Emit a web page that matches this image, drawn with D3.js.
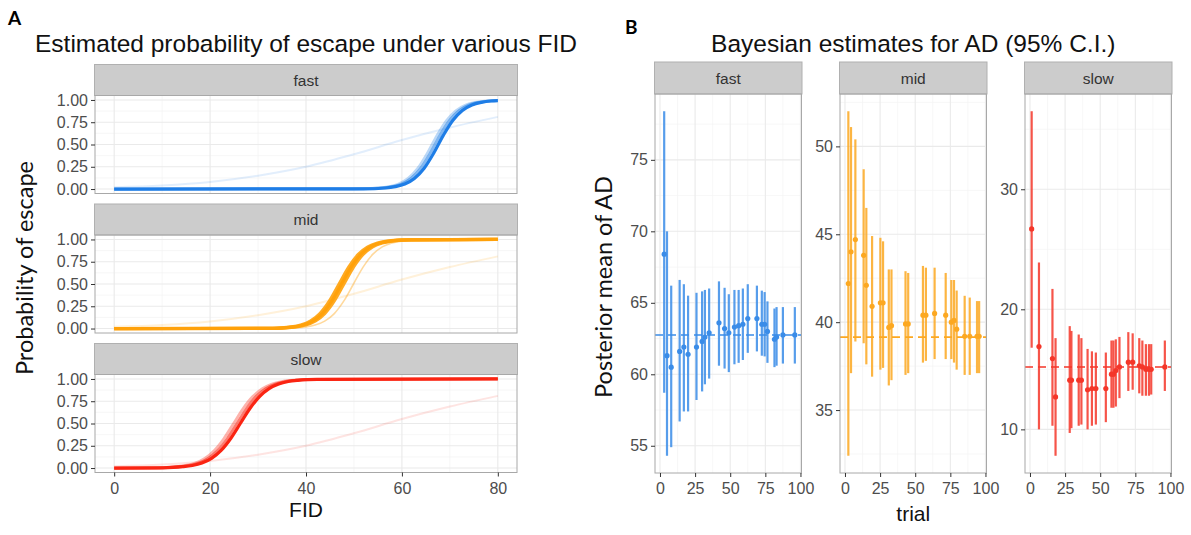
<!DOCTYPE html>
<html>
<head>
<meta charset="utf-8">
<script src="https://cdn.jsdelivr.net/npm/d3@7"></script>
<style>
  body { margin: 0; background: #fff; }
  svg { display: block; }
</style>
</head>
<body>
<svg id="chart" width="1191" height="535"></svg>
<script>
(function drawFigure() {
  const FACETS = ['fast', 'mid', 'slow'];

  // ---- Panel A data: curves as [FID, probability] ----
  const fidTicks = [0, 20, 40, 60, 80];
  const probTicks = [0, 0.25, 0.5, 0.75, 1];

  const faintCurve = [[0, 0.02], [10, 0.04], [20, 0.08], [30, 0.15], [40, 0.25], [50, 0.39], [60, 0.55], [70, 0.69], [80, 0.81]];

  const fastCurves = [
    faintCurve,
    [[0, 0], [50, 0.002], [55.3, 0.012], [57.3, 0.027], [59.3, 0.057], [61.3, 0.119], [63.3, 0.231], [65.3, 0.401], [67.3, 0.599], [69.3, 0.769], [71.3, 0.881], [73.3, 0.943], [75.3, 0.973], [77.3, 0.988], [80, 0.996]],
    [[0, 0], [50, 0.002], [55.9, 0.012], [57.9, 0.027], [59.9, 0.057], [61.9, 0.119], [63.9, 0.231], [65.9, 0.401], [67.9, 0.599], [69.9, 0.769], [71.9, 0.881], [73.9, 0.943], [75.9, 0.973], [77.9, 0.988], [80, 0.994]],
    [[0, 0], [52, 0.002], [56.6, 0.012], [58.6, 0.027], [60.6, 0.057], [62.6, 0.119], [64.6, 0.231], [66.6, 0.401], [68.6, 0.599], [70.6, 0.769], [72.6, 0.881], [74.6, 0.943], [76.6, 0.973], [78.6, 0.988], [80, 0.992]]
  ];

  const midCurves = [
    faintCurve,
    [[0, 0], [36, 0.003], [37.9, 0.008], [39.9, 0.018], [41.9, 0.039], [43.9, 0.083], [45.9, 0.168], [47.9, 0.31], [49.9, 0.5], [51.9, 0.69], [53.9, 0.832], [55.9, 0.917], [57.9, 0.961], [59.9, 0.982], [61.9, 0.992], [63.9, 0.996], [80, 1]],
    [[0, 0], [31, 0.002], [34.9, 0.008], [36.9, 0.018], [38.9, 0.039], [40.9, 0.083], [42.9, 0.168], [44.9, 0.31], [46.9, 0.5], [48.9, 0.69], [50.9, 0.832], [52.9, 0.917], [54.9, 0.961], [56.9, 0.982], [58.9, 0.992], [60.9, 0.996], [80, 1]],
    [[0, 0], [32, 0.002], [35.9, 0.008], [37.9, 0.018], [39.9, 0.039], [41.9, 0.083], [43.9, 0.168], [45.9, 0.31], [47.9, 0.5], [49.9, 0.69], [51.9, 0.832], [53.9, 0.917], [55.9, 0.961], [57.9, 0.982], [59.9, 0.992], [61.9, 0.996], [80, 1]],
    [[0, 0], [31.5, 0.002], [35.4, 0.008], [37.4, 0.018], [39.4, 0.039], [41.4, 0.083], [43.4, 0.168], [45.4, 0.31], [47.4, 0.5], [49.4, 0.69], [51.4, 0.832], [53.4, 0.917], [55.4, 0.961], [57.4, 0.982], [59.4, 0.992], [61.4, 0.996], [80, 1]]
  ];

  const slowCurves = [
    faintCurve,
    [[0, 0], [8.9, 0.003], [10.9, 0.007], [12.9, 0.015], [14.9, 0.029], [16.9, 0.057], [18.9, 0.109], [20.9, 0.198], [22.9, 0.332], [24.9, 0.5], [26.9, 0.668], [28.9, 0.802], [30.9, 0.891], [32.9, 0.943], [34.9, 0.971], [36.9, 0.985], [38.9, 0.993], [40.9, 0.996], [80, 1]],
    [[0, 0], [9.6, 0.003], [11.6, 0.007], [13.6, 0.015], [15.6, 0.029], [17.6, 0.057], [19.6, 0.109], [21.6, 0.198], [23.6, 0.332], [25.6, 0.5], [27.6, 0.668], [29.6, 0.802], [31.6, 0.891], [33.6, 0.943], [35.6, 0.971], [37.6, 0.985], [39.6, 0.993], [41.6, 0.996], [80, 1]],
    [[0, 0], [10.3, 0.003], [12.3, 0.007], [14.3, 0.015], [16.3, 0.029], [18.3, 0.057], [20.3, 0.109], [22.3, 0.198], [24.3, 0.332], [26.3, 0.5], [28.3, 0.668], [30.3, 0.802], [32.3, 0.891], [34.3, 0.943], [36.3, 0.971], [38.3, 0.985], [40.3, 0.993], [42.3, 0.996], [80, 1]]
  ];

  // ---- Panel B data: [trial, posterior mean, lower 95%, upper 95%] ----
  const trialTicks = [0, 25, 50, 75, 100];

  const fastEstimates = [
    [3, 68.4, 58.7, 78.4], [5, 61.3, 54.3, 70.0], [8, 60.5, 54.9, 66.2], [14, 61.6, 56.7, 66.6],
    [17, 61.9, 57.4, 66.3], [20, 61.4, 57.4, 65.5], [26, 61.9, 58.2, 65.7], [30, 62.3, 58.8, 65.8],
    [32, 62.6, 59.3, 65.9], [35, 62.9, 59.7, 66.0], [42, 63.6, 60.6, 66.5], [46, 63.2, 60.4, 66.05],
    [49, 62.9, 60.15, 65.6], [53, 63.3, 60.7, 65.9], [56, 63.4, 60.8, 65.9], [59, 63.5, 61.0, 66.0],
    [62.5, 63.9, 61.5, 66.3], [69, 63.9, 61.6, 66.2], [72.5, 63.5, 61.3, 65.85], [74.5, 63.5, 61.25, 65.75],
    [76.5, 63.0, 60.8, 65.1], [81.5, 62.45, 60.5, 64.6], [83, 62.6, 60.6, 64.7], [87.5, 62.75, 60.75, 64.7],
    [96, 62.75, 60.75, 64.7]
  ];

  const midEstimates = [
    [2.4, 42.2, 32.4, 52.0], [4.3, 44.0, 37.1, 51.1], [7.4, 44.7, 38.9, 50.4], [13.3, 43.8, 38.8, 48.7],
    [15.2, 42.1, 37.6, 46.5], [19.3, 40.9, 36.9, 44.9], [25.2, 41.1, 37.3, 44.8], [27.1, 41.1, 37.4, 44.6],
    [31.2, 39.7, 36.4, 43.0], [33.1, 39.8, 36.7, 43.0], [43.1, 39.9, 37.0, 42.9], [45.0, 39.9, 37.1, 42.8],
    [55.5, 40.4, 37.7, 43.2], [57.6, 40.4, 37.8, 43.1], [63.8, 40.5, 37.9, 43.1], [71.7, 40.4, 37.9, 42.8],
    [75.7, 40.0, 37.9, 42.4], [77.6, 40.1, 37.7, 42.4], [79.5, 39.6, 37.3, 41.8], [85.2, 39.2, 37.0, 41.5],
    [88.8, 39.2, 37.0, 41.4], [94.0, 39.2, 37.1, 41.2], [95.5, 39.2, 37.1, 41.2]
  ];

  const slowEstimates = [
    [1.2, 26.7, 16.8, 36.5], [6.4, 16.9, 10.0, 23.9], [16.0, 15.9, 10.3, 21.7], [18.2, 12.7, 7.8, 17.6],
    [28.3, 14.1, 9.7, 18.6], [29.5, 14.1, 10.1, 18.2], [34.7, 14.1, 10.3, 17.9], [36.6, 14.1, 10.4, 17.6],
    [41.0, 13.3, 10.0, 16.7], [44.1, 13.4, 10.3, 16.5], [46.9, 13.4, 10.4, 16.4], [54.0, 13.4, 10.6, 16.4],
    [58.0, 14.6, 11.8, 17.4], [59.4, 14.6, 11.8, 17.4], [61.1, 14.9, 11.9, 17.5], [63.7, 15.2, 12.6, 17.7],
    [70.0, 15.6, 13.2, 18.1], [73.1, 15.6, 13.3, 18.0], [77.8, 15.3, 13.0, 17.6], [80.0, 15.2, 12.8, 17.4],
    [82.5, 15.0, 12.8, 17.1], [84.7, 15.0, 12.8, 17.1], [86.3, 15.0, 12.9, 17.1], [96.0, 15.2, 13.2, 17.4]
  ];

  const referenceAD = [62.75, 39.15, 15.2];
  const adTicks = [[55, 60, 65, 70, 75], [35, 40, 45, 50], [10, 20, 30]];

  // ---- styling ----
  const COLORS_A = ['#1E7DE6', '#FFA10A', '#FA2412'];
  const COLORS_B = ['#3A8CE8', '#FCA821', '#F43629'];
  const curveAlpha = [[0.13, 0.3, 0.55, 1], [0.15, 0.4, 0.9, 0.9, 1], [0.12, 0.35, 0.6, 1]];
  const curveWidth = [[2, 2.8, 2.8, 3.2], [2, 1.6, 3.2, 3.2, 3.2], [2, 2.8, 2.8, 3.2]];
  const SANS = "'Liberation Sans', Arial, sans-serif";
  const LABEL_FONT = "Lato, 'Open Sans', sans-serif";

  const svg = d3.select('#chart');

  function expand(ext, f = 0.05) {
    const p = (ext[1] - ext[0]) * f;
    return [ext[0] - p, ext[1] + p];
  }

  function minors(majors, domain) {
    const step = majors[1] - majors[0];
    const out = [];
    for (let v = majors[0] - step / 2; v <= domain[1]; v += step) {
      if (v >= domain[0]) out.push(v);
    }
    return out;
  }

  // background, grid and strip for one facet
  function facetFrame(x, y, label, xMajor, yMajor, stripH) {
    const [x0, x1] = x.range();
    const [y1, y0] = y.range();
    const g = svg.append('g');
    g.append('rect').attr('x', x0).attr('y', y0).attr('width', x1 - x0).attr('height', y1 - y0).attr('fill', '#fff');

    minors(xMajor, x.domain()).forEach(v => {
      g.append('line').attr('x1', x(v)).attr('x2', x(v)).attr('y1', y0).attr('y2', y1)
        .attr('stroke', '#F4F4F4').attr('stroke-width', 0.7);
    });
    minors(yMajor, y.domain()).forEach(v => {
      g.append('line').attr('x1', x0).attr('x2', x1).attr('y1', y(v)).attr('y2', y(v))
        .attr('stroke', '#F4F4F4').attr('stroke-width', 0.7);
    });
    xMajor.forEach(v => {
      g.append('line').attr('x1', x(v)).attr('x2', x(v)).attr('y1', y0).attr('y2', y1)
        .attr('stroke', '#EAEAEA').attr('stroke-width', 1.1);
    });
    yMajor.forEach(v => {
      g.append('line').attr('x1', x0).attr('x2', x1).attr('y1', y(v)).attr('y2', y(v))
        .attr('stroke', '#EAEAEA').attr('stroke-width', 1.1);
    });

    g.append('rect').attr('x', x0 - 0.5).attr('y', y0 - stripH).attr('width', x1 - x0 + 1).attr('height', stripH)
      .attr('fill', '#CCCCCC').attr('stroke', '#B0B0B0').attr('stroke-width', 1);
    g.append('text').attr('x', (x0 + x1) / 2).attr('y', y0 - stripH / 2 + 5.5)
      .attr('text-anchor', 'middle').attr('font-family', SANS).attr('font-size', '15.5px')
      .attr('fill', '#333').text(label);
    return g;
  }

  function facetBorder(x, y) {
    const [x0, x1] = x.range();
    const [y1, y0] = y.range();
    svg.append('rect').attr('x', x0).attr('y', y0).attr('width', x1 - x0).attr('height', y1 - y0)
      .attr('fill', 'none').attr('stroke', '#A8A8A8').attr('stroke-width', 1);
  }

  function styleAxis(g) {
    g.select('.domain').remove();
    g.selectAll('line').attr('stroke', '#333').attr('stroke-width', 1);
    g.selectAll('text').attr('fill', '#4D4D4D').attr('font-family', SANS).attr('font-size', '16px');
  }

  // ================= Panel A =================
  const A_LEFT = 95, A_RIGHT = 517, A_TOP = 95.5, A_STEP = 139.5, A_H = 98, A_STRIP = 31;
  const xA = d3.scaleLinear().domain(expand(d3.extent(fidTicks))).range([A_LEFT, A_RIGHT]);
  const curveSets = [fastCurves, midCurves, slowCurves];

  FACETS.forEach((facet, i) => {
    const top = A_TOP + i * A_STEP;
    const yA = d3.scaleLinear().domain(expand([0, 1])).range([top + A_H, top]);
    facetFrame(xA, yA, facet, fidTicks, probTicks, A_STRIP);

    const line = d3.line().x(d => xA(d[0])).y(d => yA(d[1])).curve(d3.curveMonotoneX);
    curveSets[i].forEach((pts, j) => {
      svg.append('path').datum(pts).attr('d', line)
        .attr('fill', 'none').attr('stroke', COLORS_A[i])
        .attr('stroke-opacity', curveAlpha[i][j]).attr('stroke-width', curveWidth[i][j]);
    });
    facetBorder(xA, yA);

    svg.append('g').attr('transform', `translate(${A_LEFT},0)`)
      .call(d3.axisLeft(yA).tickValues(probTicks).tickFormat(d3.format('.2f')).tickSize(4).tickPadding(3))
      .call(styleAxis);

    if (i === FACETS.length - 1) {
      svg.append('g').attr('transform', `translate(0,${top + A_H})`)
        .call(d3.axisBottom(xA).tickValues(fidTicks).tickSize(4).tickPadding(6))
        .call(styleAxis);
    }
  });

  svg.append('text').attr('x', 8).attr('y', 25).attr('font-family', LABEL_FONT)
    .attr('font-weight', 'bold').attr('font-size', '19px').attr('fill', '#000').text('A');
  svg.append('text').attr('x', (A_LEFT + A_RIGHT) / 2).attr('y', 52).attr('text-anchor', 'middle')
    .attr('font-family', SANS).attr('font-size', '24.5px').attr('fill', '#111')
    .text('Estimated probability of escape under various FID');
  svg.append('text').attr('x', (A_LEFT + A_RIGHT) / 2).attr('y', 517).attr('text-anchor', 'middle')
    .attr('font-family', SANS).attr('font-size', '21px').attr('fill', '#111').text('FID');
  svg.append('text').attr('transform', 'translate(33,268) rotate(-90)').attr('text-anchor', 'middle')
    .attr('font-family', LABEL_FONT).attr('font-size', '23.5px').attr('fill', '#111')
    .text('Probability of escape');

  // ================= Panel B =================
  const B_LEFTS = [655, 840, 1025], B_W = 146.5, B_TOP = 94, B_BOTTOM = 473, B_STRIP = 32;
  const estimateSets = [fastEstimates, midEstimates, slowEstimates];
  const allTrials = estimateSets.flat().map(d => d[0]);
  const trialDomain = expand(d3.extent(allTrials));

  FACETS.forEach((facet, i) => {
    const data = estimateSets[i];
    const xB = d3.scaleLinear().domain(trialDomain).range([B_LEFTS[i], B_LEFTS[i] + B_W]);
    const yDomain = expand([d3.min(data, d => d[2]), d3.max(data, d => d[3])]);
    const yB = d3.scaleLinear().domain(yDomain).range([B_BOTTOM, B_TOP]);
    facetFrame(xB, yB, facet, trialTicks, adTicks[i], B_STRIP);

    svg.append('line')
      .attr('x1', B_LEFTS[i]).attr('x2', B_LEFTS[i] + B_W)
      .attr('y1', yB(referenceAD[i])).attr('y2', yB(referenceAD[i]))
      .attr('stroke', COLORS_B[i]).attr('stroke-width', 1.6).attr('stroke-dasharray', '8,5');

    const g = svg.append('g');
    g.selectAll('line.ci').data(data).join('line').attr('class', 'ci')
      .attr('x1', d => xB(d[0])).attr('x2', d => xB(d[0]))
      .attr('y1', d => yB(d[2])).attr('y2', d => yB(d[3]))
      .attr('stroke', COLORS_B[i]).attr('stroke-opacity', 0.85).attr('stroke-width', 2.2);
    g.selectAll('circle').data(data).join('circle')
      .attr('cx', d => xB(d[0])).attr('cy', d => yB(d[1])).attr('r', 2.6)
      .attr('fill', COLORS_B[i]);

    facetBorder(xB, yB);

    svg.append('g').attr('transform', `translate(${B_LEFTS[i]},0)`)
      .call(d3.axisLeft(yB).tickValues(adTicks[i]).tickSize(4).tickPadding(3))
      .call(styleAxis);
    svg.append('g').attr('transform', `translate(0,${B_BOTTOM})`)
      .call(d3.axisBottom(xB).tickValues(trialTicks).tickSize(4).tickPadding(6))
      .call(styleAxis);
  });

  svg.append('text').attr('x', 625).attr('y', 34).attr('font-family', LABEL_FONT)
    .attr('font-weight', 'bold').attr('font-size', '19px').attr('fill', '#000').text('B');
  svg.append('text').attr('x', (B_LEFTS[0] + B_LEFTS[2] + B_W) / 2).attr('y', 52).attr('text-anchor', 'middle')
    .attr('font-family', SANS).attr('font-size', '24.5px').attr('fill', '#111')
    .text('Bayesian estimates for AD (95% C.I.)');
  svg.append('text').attr('x', B_LEFTS[1] + B_W / 2).attr('y', 521).attr('text-anchor', 'middle')
    .attr('font-family', SANS).attr('font-size', '21px').attr('fill', '#111').text('trial');
  svg.append('text').attr('transform', 'translate(612,287) rotate(-90)').attr('text-anchor', 'middle')
    .attr('font-family', LABEL_FONT).attr('font-size', '23.5px').attr('fill', '#111')
    .text('Posterior mean of AD');
})();
</script>
</body>
</html>
